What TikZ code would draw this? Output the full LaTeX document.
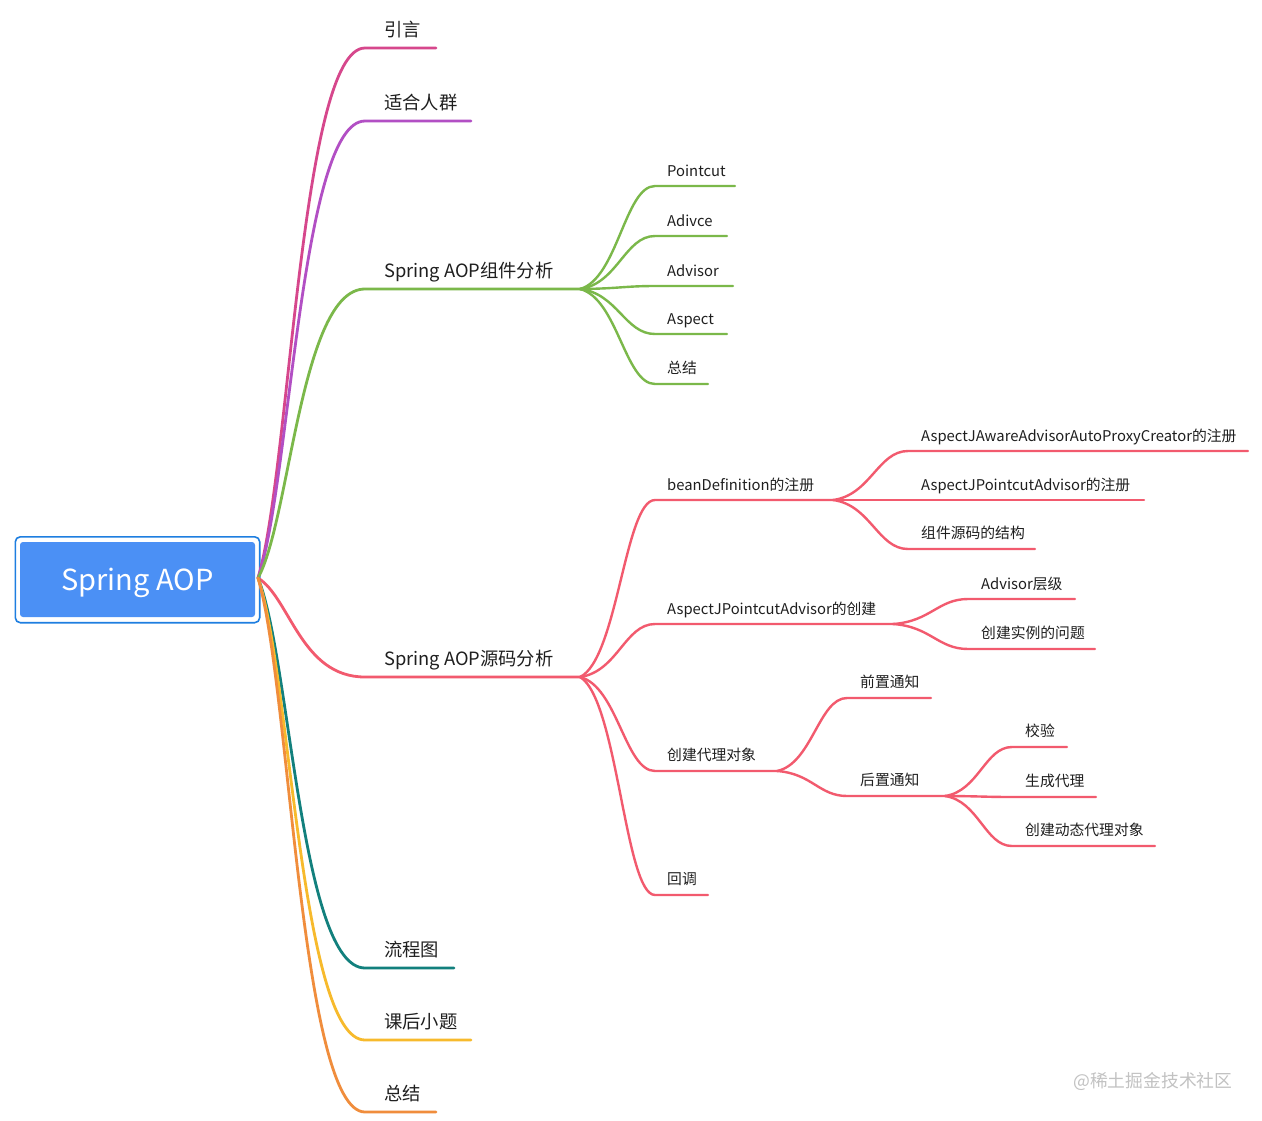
\documentclass[tikz,border=0pt]{standalone}
\usepackage{fontspec}
\setmainfont{Noto Sans CJK SC}
\usetikzlibrary{calc}
\definecolor{cA}{HTML}{D6478C}
\definecolor{cB}{HTML}{B24FC4}
\definecolor{cG}{HTML}{7BB84A}
\definecolor{cR}{HTML}{F25A6E}
\definecolor{cT}{HTML}{12807D}
\definecolor{cY}{HTML}{F7BA2C}
\definecolor{cO}{HTML}{F08D3C}
\definecolor{rootfill}{HTML}{4B90F5}
\definecolor{rootline}{HTML}{1E7EE0}
\definecolor{txt}{HTML}{1F1F1F}
\definecolor{wm}{HTML}{C2C2C2}
\tikzset{
  lone/.style={line width=2.8pt, line cap=round},
  ltwo/.style={line width=2.4pt, line cap=round},
  lab1/.style={anchor=base west, inner sep=0pt, font=\fontsize{18.3}{21}\selectfont, text=txt},
  lab2/.style={anchor=base west, inner sep=0pt, font=\fontsize{14.8}{17}\selectfont, text=txt},
  rootbox/.style={fill=rootfill, rounded corners=3pt, minimum width=235pt, minimum height=75pt,
    inner sep=0pt, text=white, text height=21pt, text depth=0pt, font=\fontsize{29}{32}\selectfont},
}
% level-1 curve (from the root)
\newcommand\mmedge[4]{\draw[#1] let \p1=(#2), \p2=(#3) in (\p1) .. controls ({\x1+0.3*(\x2-\x1)},{\y1+0.2*(\y2-\y1)}) and ({\x1+0.4*(\x2-\x1)},{\y2}) .. (\p2) -- (#4);}
% deeper curves
\newcommand\mmsub[4]{\draw[#1] let \p1=(#2), \p2=(#3) in (\p1) .. controls ({\x1+0.5*(\x2-\x1)},{\y1+0.1*(\y2-\y1)}) and ({\x1+0.6*(\x2-\x1)},{\y2}) .. (\p2) -- (#4);}
\begin{document}
\begin{tikzpicture}[x=1pt,y=-1pt]
\fill[white] (0,0) rectangle (1262,1120);
\useasboundingbox (0,0) rectangle (1262,1120);

% root
\node[rootbox] (root) at (137.5,579.5) {Spring AOP};
\draw[rootline, line width=1.6pt, rounded corners=5pt]
  ([shift={(-4.5pt,5pt)}]root.north west) rectangle ([shift={(4.5pt,-5.5pt)}]root.south east);
\coordinate (o) at (258,578);

% level 1 coordinates
\coordinate (a1) at (365,48);   \coordinate (a1e) at (436,48);
\coordinate (a2) at (365,121);  \coordinate (a2e) at (471,121);
\coordinate (a3) at (365,289);  \coordinate (a3e) at (580,289);
\coordinate (a4) at (365,677);  \coordinate (a4e) at (580,677);
\coordinate (a5) at (365,968);  \coordinate (a5e) at (454,968);
\coordinate (a6) at (365,1040); \coordinate (a6e) at (471,1040);
\coordinate (a7) at (365,1112); \coordinate (a7e) at (436,1112);

\mmedge{lone,cA}{o}{a1}{a1e}
\mmedge{lone,cB}{o}{a2}{a2e}
\mmedge{lone,cG}{o}{a3}{a3e}
\mmedge{lone,cR}{o}{a4}{a4e}
\mmedge{lone,cT}{o}{a5}{a5e}
\mmedge{lone,cY}{o}{a6}{a6e}
\mmedge{lone,cO}{o}{a7}{a7e}

\node[lab1] (n1) at (384,36) {引言};
\node[lab1] (n2) at (384,109) {适合人群};
\node[lab1] (n3) at (384,277) {Spring AOP组件分析};
\node[lab1] (n4) at (384,665) {Spring AOP源码分析};
\node[lab1] (n5) at (384,956) {流程图};
\node[lab1] (n6) at (384,1028) {课后小题};
\node[lab1] (n7) at (384,1100) {总结};

% green sub-branches
\coordinate (g1) at (655,186); \coordinate (g1e) at (735,186);
\coordinate (g2) at (655,236); \coordinate (g2e) at (727,236);
\coordinate (g3) at (655,286); \coordinate (g3e) at (733,286);
\coordinate (g4) at (655,334); \coordinate (g4e) at (727,334);
\coordinate (g5) at (655,384); \coordinate (g5e) at (708,384);
\mmsub{ltwo,cG}{a3e}{g1}{g1e}
\mmsub{ltwo,cG}{a3e}{g2}{g2e}
\mmsub{ltwo,cG}{a3e}{g3}{g3e}
\mmsub{ltwo,cG}{a3e}{g4}{g4e}
\mmsub{ltwo,cG}{a3e}{g5}{g5e}
\node[lab2] (m1) at (667,176) {Pointcut};
\node[lab2] (m2) at (667,226) {Adivce};
\node[lab2] (m3) at (667,276) {Advisor};
\node[lab2] (m4) at (667,324) {Aspect};
\node[lab2] (m5) at (667,373) {总结};

% red sub-branches
\coordinate (r1) at (655,500); \coordinate (r1e) at (833,500);
\coordinate (r2) at (655,624); \coordinate (r2e) at (893,624);
\coordinate (r3) at (655,771); \coordinate (r3e) at (777,771);
\coordinate (r4) at (655,895); \coordinate (r4e) at (708,895);
\mmsub{ltwo,cR}{a4e}{r1}{r1e}
\mmsub{ltwo,cR}{a4e}{r2}{r2e}
\mmsub{ltwo,cR}{a4e}{r3}{r3e}
\mmsub{ltwo,cR}{a4e}{r4}{r4e}
\node[lab2] (p1) at (667,490) {beanDefinition的注册};
\node[lab2] (p2) at (667,614) {AspectJPointcutAdvisor的创建};
\node[lab2] (p3) at (667,760) {创建代理对象};
\node[lab2] (p4) at (667,884) {回调};

% beanDefinition children
\coordinate (b1) at (908,451); \coordinate (b1e) at (1248,451);
\coordinate (b2) at (908,500); \coordinate (b2e) at (1144,500);
\coordinate (b3) at (908,549); \coordinate (b3e) at (1035,549);
\mmsub{ltwo,cR}{r1e}{b1}{b1e}
\mmsub{ltwo,cR}{r1e}{b2}{b2e}
\mmsub{ltwo,cR}{r1e}{b3}{b3e}
\node[lab2] (q1) at (921,441) {AspectJAwareAdvisorAutoProxyCreator的注册};
\node[lab2] (q2) at (921,490) {AspectJPointcutAdvisor的注册};
\node[lab2] (q3) at (921,538) {组件源码的结构};

% AspectJPointcutAdvisor的创建 children
\coordinate (c1) at (968,599); \coordinate (c1e) at (1075,599);
\coordinate (c2) at (968,649); \coordinate (c2e) at (1095,649);
\mmsub{ltwo,cR}{r2e}{c1}{c1e}
\mmsub{ltwo,cR}{r2e}{c2}{c2e}
\node[lab2] (s1) at (981,589) {Advisor层级};
\node[lab2] (s2) at (981,638) {创建实例的问题};

% 创建代理对象 children
\coordinate (d1) at (847,698); \coordinate (d1e) at (931,698);
\coordinate (d2) at (847,796); \coordinate (d2e) at (945,796);
\mmsub{ltwo,cR}{r3e}{d1}{d1e}
\mmsub{ltwo,cR}{r3e}{d2}{d2e}
\node[lab2] (u1) at (860,687) {前置通知};
\node[lab2] (u2) at (860,785) {后置通知};

% 后置通知 children
\coordinate (e1) at (1012,747); \coordinate (e1e) at (1067,747);
\coordinate (e2) at (1012,797); \coordinate (e2e) at (1096,797);
\coordinate (e3) at (1012,846); \coordinate (e3e) at (1155,846);
\mmsub{ltwo,cR}{d2e}{e1}{e1e}
\mmsub{ltwo,cR}{d2e}{e2}{e2e}
\mmsub{ltwo,cR}{d2e}{e3}{e3e}
\node[lab2] (v1) at (1025,736) {校验};
\node[lab2] (v2) at (1025,786) {生成代理};
\node[lab2] (v3) at (1025,835) {创建动态代理对象};

% watermark
\node[anchor=base west, inner sep=0pt, text=wm, font=\fontsize{17.8}{20}\selectfont] (wmk) at (1073,1087) {@稀土掘金技术社区};
\end{tikzpicture}
\end{document}
